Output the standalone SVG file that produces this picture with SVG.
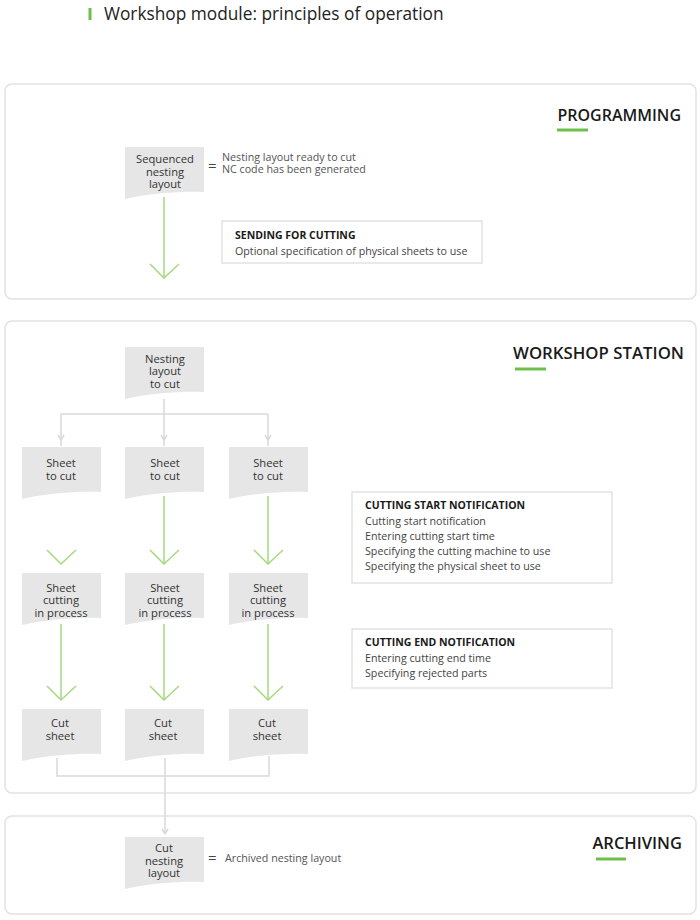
<svg xmlns="http://www.w3.org/2000/svg" width="700" height="920" viewBox="0 0 700 920">
<defs>
<style>
.panel{fill:#fff;stroke:#e2e2e2;stroke-width:1.5}
.node{fill:#e6e6e6}
.nt{font-family:"Open Sans","Liberation Sans",sans-serif;font-size:11.2px;fill:#333;text-anchor:middle}
.lab{font-family:"Open Sans","Liberation Sans",sans-serif;font-size:10.7px;fill:#555}
.eq{font-family:"Open Sans","Liberation Sans",sans-serif;font-size:15px;fill:#444}
.head{font-family:"Open Sans","Liberation Sans",sans-serif;font-size:16px;font-weight:600;fill:#1a1a1a;text-anchor:end}
.bar{stroke:#6cc04a;stroke-width:3}
.box{fill:#fff;stroke:#e2e2e2;stroke-width:1.5}
.bt{font-family:"Open Sans","Liberation Sans",sans-serif;font-size:10.5px;font-weight:700;fill:#1a1a1a}
.bl{font-family:"Open Sans","Liberation Sans",sans-serif;font-size:10.7px;fill:#444}
.g{fill:none;stroke:#a6d97f;stroke-width:1.5}
.gray{fill:none;stroke:#d9d9d9;stroke-width:1.5}
</style>
</defs>
<rect width="700" height="920" fill="#fff"/>

<g id="title">
<line x1="90" y1="8" x2="90" y2="20" class="bar"/>
<text x="104" y="20" font-family="'Open Sans','Liberation Sans',sans-serif" font-size="17.3" fill="#222">Workshop module: principles of operation</text>
</g>

<g id="panel-programming">
<rect x="5" y="84" width="691" height="215" rx="7" class="panel"/>
<text x="681" y="121" class="head">PROGRAMMING</text>
<line x1="557" y1="130" x2="588" y2="130" class="bar"/>
</g>
<g id="panel-workshop">
<rect x="5" y="321" width="691" height="472" rx="7" class="panel"/>
<text x="684" y="359" class="head" style="font-size:16.8px">WORKSHOP STATION</text>
<line x1="515" y1="369" x2="546" y2="369" class="bar"/>
</g>
<g id="panel-archiving">
<rect x="5" y="816" width="691" height="98" rx="7" class="panel"/>
<text x="682" y="849" class="head" style="font-size:16.5px">ARCHIVING</text>
<line x1="596" y1="859" x2="626" y2="859" class="bar"/>
</g>

<g id="connectors">
<path d="M164,197 V277" class="g"/>
<path d="M150,264 L164,278 L179,264" class="g"/>
<path d="M164,399 V414 M61,414 H268 M61,414 V446 M164,414 V446 M268,414 V446" class="gray"/>
<path d="M61,440 l-3,-5 M61,440 l3,-5 M164,440 l-3,-5 M164,440 l3,-5 M268,440 l-3,-5 M268,440 l3,-5" class="gray"/>
<path d="M47,550 L61,564 L76,550" class="g"/>
<path d="M164,496 V563" class="g"/>
<path d="M150,550 L164,564 L179,550" class="g"/>
<path d="M268,496 V563" class="g"/>
<path d="M254,550 L268,564 L283,550" class="g"/>
<path d="M61,624 V699" class="g"/>
<path d="M47,686 L61,700 L76,686" class="g"/>
<path d="M164,624 V699" class="g"/>
<path d="M150,686 L164,700 L179,686" class="g"/>
<path d="M268,624 V699" class="g"/>
<path d="M254,686 L268,700 L283,686" class="g"/>
<path d="M57,758 V776 H269 V756 M165,758 V834" class="gray"/>
<path d="M165,834 l-3,-5 M165,834 l3,-5" class="gray"/>
</g>

<g id="n-sequenced">
<path d="M125,147 H204 V192 C184,191 150,193 125,199 Z" class="node"/>
<text class="nt"><tspan x="165" y="163">Sequenced</tspan><tspan x="165" y="175.5">nesting</tspan><tspan x="165" y="188">layout</tspan></text>
</g>
<g id="l-sequenced">
<text x="208" y="171" class="eq">=</text>
<text class="lab"><tspan x="222" y="161">Nesting layout ready to cut</tspan><tspan x="222" y="173">NC code has been generated</tspan></text>
</g>
<g id="b-sending">
<rect x="222" y="221" width="260" height="42" class="box"/>
<text x="235" y="239" class="bt">SENDING FOR CUTTING</text>
<text x="235" y="255" class="bl">Optional specification of physical sheets to use</text>
</g>

<g id="n-nesting">
<path d="M125,347 H204 V392 C184,391 150,393 125,399 Z" class="node"/>
<text class="nt"><tspan x="165" y="362.5">Nesting</tspan><tspan x="165" y="375">layout</tspan><tspan x="165" y="387.5">to cut</tspan></text>
</g>

<g id="n-sheet1">
<path d="M22,447 H101 V492 C81,491 47,493 22,499 Z" class="node"/>
<text class="nt"><tspan x="61" y="467">Sheet</tspan><tspan x="61" y="479.5">to cut</tspan></text>
</g>
<g id="n-sheet2">
<path d="M125,447 H204 V492 C184,491 150,493 125,499 Z" class="node"/>
<text class="nt"><tspan x="165" y="467">Sheet</tspan><tspan x="165" y="479.5">to cut</tspan></text>
</g>
<g id="n-sheet3">
<path d="M229,447 H308 V492 C288,491 254,493 229,499 Z" class="node"/>
<text class="nt"><tspan x="268" y="467">Sheet</tspan><tspan x="268" y="479.5">to cut</tspan></text>
</g>

<g id="n-cutting1">
<path d="M22,573 H101 V618 C81,617 47,619 22,625 Z" class="node"/>
<text class="nt"><tspan x="61" y="591.5">Sheet</tspan><tspan x="61" y="604">cutting</tspan><tspan x="61" y="616.5">in process</tspan></text>
</g>
<g id="n-cutting2">
<path d="M125,573 H204 V618 C184,617 150,619 125,625 Z" class="node"/>
<text class="nt"><tspan x="165" y="591.5">Sheet</tspan><tspan x="165" y="604">cutting</tspan><tspan x="165" y="616.5">in process</tspan></text>
</g>
<g id="n-cutting3">
<path d="M229,573 H308 V618 C288,617 254,619 229,625 Z" class="node"/>
<text class="nt"><tspan x="268" y="591.5">Sheet</tspan><tspan x="268" y="604">cutting</tspan><tspan x="268" y="616.5">in process</tspan></text>
</g>

<g id="n-cut1">
<path d="M22,709 H101 V754 C81,753 47,755 22,761 Z" class="node"/>
<text class="nt"><tspan x="60" y="727">Cut</tspan><tspan x="60" y="740">sheet</tspan></text>
</g>
<g id="n-cut2">
<path d="M125,709 H204 V754 C184,753 150,755 125,761 Z" class="node"/>
<text class="nt"><tspan x="163" y="727">Cut</tspan><tspan x="163" y="740">sheet</tspan></text>
</g>
<g id="n-cut3">
<path d="M229,709 H308 V754 C288,753 254,755 229,761 Z" class="node"/>
<text class="nt"><tspan x="267" y="727">Cut</tspan><tspan x="267" y="740">sheet</tspan></text>
</g>

<g id="b-start">
<rect x="352" y="492" width="260" height="91" class="box"/>
<text x="365" y="509" class="bt">CUTTING START NOTIFICATION</text>
<text class="bl"><tspan x="365" y="525">Cutting start notification</tspan><tspan x="365" y="540">Entering cutting start time</tspan><tspan x="365" y="555">Specifying the cutting machine to use</tspan><tspan x="365" y="570">Specifying the physical sheet to use</tspan></text>
</g>
<g id="b-end">
<rect x="352" y="629" width="260" height="59" class="box"/>
<text x="365" y="646" class="bt">CUTTING END NOTIFICATION</text>
<text class="bl"><tspan x="365" y="662">Entering cutting end time</tspan><tspan x="365" y="677">Specifying rejected parts</tspan></text>
</g>

<g id="n-archived">
<path d="M125,837 H204 V882 C184,881 150,883 125,889 Z" class="node"/>
<text class="nt"><tspan x="164" y="852">Cut</tspan><tspan x="164" y="864.5">nesting</tspan><tspan x="164" y="877">layout</tspan></text>
</g>
<g id="l-archived">
<text x="208" y="863" class="eq">=</text>
<text x="225" y="862" class="lab">Archived nesting layout</text>
</g>
</svg>
